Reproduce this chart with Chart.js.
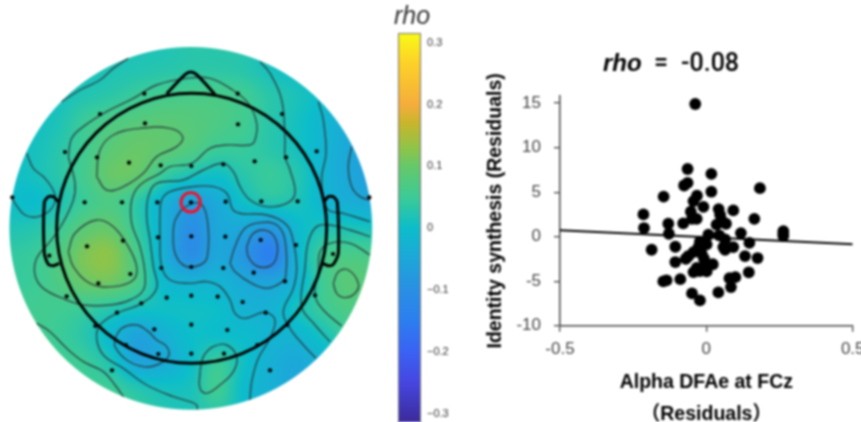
<!DOCTYPE html>
<html><head><meta charset="utf-8">
<script src="https://cdn.jsdelivr.net/npm/chart.js@4/dist/chart.umd.js"></script>
<style>
html,body{margin:0;padding:0;background:#fff;width:861px;height:422px;overflow:hidden}
canvas{position:absolute;filter:blur(0.8px)}
#topo{left:0;top:0}#bar{left:380px;top:0}#sc{left:480px;top:0}
</style></head><body>
<canvas id="topo" width="380" height="422"></canvas>
<canvas id="bar" width="80" height="450"></canvas>
<canvas id="sc" width="420" height="440"></canvas>
<script>
// ---------- scatter values ----------
const dfaResiduals=[-.038,-.064,.017,-.064,-.076,.183,.017,-.146,-.032,-.044,-.01,.042,.092,-.215,-.053,.047,-.049,-.033,.164,.052,-.079,-.13,.067,.035,-.213,.263,.263,.263,-.128,.007,.118,.044,.064,-.022,.147,.001,-.027,.058,.092,.064,-.106,-.187,-.044,-.062,-.016,.132,.175,-.008,-.07,-.106,.022,-.005,-.033,-.044,-.022,.001,.145,.099,.079,-.089,-.136,-.147,.084,-.049,.041,-.022];
const identityResiduals=[14.9,7.6,7.05,6.05,5.75,5.45,5.05,4.5,4.6,4,3.35,3.1,2.95,2.5,2.8,2.45,2,2,2,1.85,1.5,1.45,1.45,1.35,.97,.63,.33,.07,.33,.22,.4,.15,-.3,-.57,-.7,-.87,-1.17,-1.17,-1.17,-1.47,-1.13,-1.47,-1.73,-2.2,-1.9,-2.18,-2.4,-2.48,-2.48,-2.85,-3.1,-3.1,-3.5,-3.98,-3.87,-3.9,-4,-4.55,-4.66,-4.77,-4.9,-5.03,-5.66,-6.37,-6.26,-7.15];
const trendX=[-.5,.5];
const trendY=[.71,-.85];
const xTicks=[-.5,0,.5];
const yTicks=[-10,-5,0,5,10,15];
const colorbarTicks=[-.3,-.2,-.1,0,.1,.2,.3];
// ---------- topography values (rho x 100) on a grid of head-map coordinates ----------
const fieldX=[13,93,173,253,333,413,493,573,653,733,813,893,973,1053,1133];
const fieldY=[125,205,285,365,445,525,605,685,765,845,925,1005,1085,1165,1245];
const fieldValues=[
[2,2,2,2,2,2,2,3,3,3,1,0,-1,-2,-3],
[.5,.5,.5,1.2,1.9,2.3,2.8,3.3,3.3,2.8,1,0,-1,-3,-4],
[.5,.5,1,2.3,3.3,4.8,5.8,6.3,6.3,5.3,3,1.5,-.5,-3,-5],
[.5,.5,1.8,4.8,6.8,8,8.5,8,7,5.5,3,1,-1.7,-4,-6],
[.5,.9,2.8,5.5,8.5,10,9,7.5,5,4.5,3,1,-2,-5,-7],
[.5,1,3,6,10,9.5,4.5,1.7,.5,3,4.5,2.5,-2,-5,-7],
[.7,-.3,1.7,5,7,3.5,-2.5,-6.5,-4,.5,2.5,1.7,-1.7,-3.5,-5],
[2,2.5,4.5,8.5,9.5,4,-3,-10,-5,-5,-8,-1,1.7,1.7,1],
[4,4.5,7,11.5,12.5,6,-3,-10,-5,-8.5,-14,-1.7,5.5,6.5,6],
[4.5,4.8,7,10,10.5,6.5,-1,-2.5,-2.2,-4.5,-5.5,-2,5.5,8.5,7],
[5,5.5,5.5,4.8,3,1.2,.5,.5,0,-2.5,-2.5,1.2,5,7,6],
[5,6,5,3,-1,-5.5,-3,0,0,-.5,-2,-1.7,1.5,5,5],
[5,6,5.5,4.8,1.7,-5,-4,0,4.5,.5,-3,-4.5,-2,0,1],
[5,5,5,5,5,2.5,1,1.5,5.3,-.5,-3,-5,-4,-2,0],
[5,5,5,5,5,4,2.5,2,3,0,-3,-5,-5,-4,-2]];
const colorStops=[[-.32,'#3b2a9a'],[-.25,'#4646e0'],[-.2,'#3a62f4'],[-.15,'#2c7ef0'],[-.1,'#2a8fe4'],[-.03,'#17b0d4'],[0,'#0cbdca'],[.05,'#3ccb96'],[.1,'#66c86a'],[.13,'#90c448'],[.17,'#c9b52c'],[.2,'#f5ad3c'],[.27,'#fdd328'],[.32,'#f9fb15']];
// ---------- head map geometry ----------
const electrodes=[[433,281],[713,281],[300,342],[846,342],[435,370],[714,373],[195,456],[950,454],[291,472],[858,472],[387,488],[764,484],[482,496],[574,498],[670,493],[37,592],[1108,592],[254,607],[366,607],[472,607],[573,607],[677,605],[784,604],[893,604],[474,712],[574,709],[676,710],[782,720],[888,735],[369,722],[261,739],[148,767],[999,762],[484,804],[574,801],[670,804],[761,818],[855,844],[391,822],[295,850],[945,886],[200,889],[500,893],[574,887],[653,890],[728,906],[424,910],[351,938],[797,938],[574,974],[463,988],[682,990],[286,978],[862,975],[378,1035],[772,1035],[475,1062],[574,1061],[672,1061],[336,1111],[810,1111]];
const markedElectrode=[[572,607]];
const headCentre=[[575,685]];
const nose=[[500,281],[555,224],[572,216],[590,224],[645,283]];
const leftEar=[[175,605],[160,590],[145,590],[133,607],[133,760],[145,793],[160,797],[178,790]];
const rightEar=[[972,605],[985,590],[1000,590],[1012,607],[1015,760],[1000,793],[985,797],[968,790]];
const contours=[
[[185,305],[240,270],[300,240],[340,205],[385,175]],
[[80,460],[100,505],[135,535],[165,585],[155,625],[115,650],[75,645],[45,610],[33,590]],
[[205,470],[215,415],[250,380],[320,335],[400,295],[470,255],[560,235],[630,235],[690,265],[745,310],[770,370],[765,420],[750,435],[680,435],[630,445],[575,490],[510,500],[480,520],[420,555],[395,600],[395,670],[420,740],[435,820],[430,870],[390,900],[330,915],[250,915],[200,900],[130,865],[105,825],[110,775],[150,725],[185,675],[220,600],[225,550],[205,470]],
[[290,530],[300,450],[340,405],[420,385],[510,385],[548,410],[530,440],[470,470],[430,520],[370,560],[320,570],[290,530]],
[[205,755],[225,700],[290,660],[340,680],[385,740],[410,800],[400,840],[340,860],[270,850],[220,800],[205,755]],
[[780,185],[810,220],[845,300],[855,420],[855,470],[870,510],[885,580],[860,610],[800,620],[750,600],[720,560],[700,515],[670,490],[610,510],[550,540],[470,550],[445,590],[440,650],[450,720],[460,800],[470,865],[425,910],[350,940],[300,975],[290,1015],[310,1065],[370,1105],[440,1155],[520,1190],[570,1205],[590,1215],[592,1228]],
[[948,1075],[910,1035],[870,985],[850,935],[880,865],[890,805],[880,725],[860,675],[800,645],[705,635],[680,580],[640,560],[580,560],[510,575],[485,600],[480,650],[480,710],[485,800],[510,840],[570,850],[620,845],[660,860],[690,900],[705,940],[735,955],[795,937],[825,960],[810,1015],[775,1075],[755,1145],[750,1200]],
[[525,660],[550,625],[600,610],[622,660],[622,770],[600,795],[555,798],[525,760],[520,690],[525,660]],
[[690,790],[705,740],[735,685],[780,668],[830,675],[855,720],[857,830],[840,850],[800,865],[755,850],[705,815],[690,790]],
[[740,740],[760,700],[800,692],[828,720],[830,770],[810,798],[770,798],[745,770],[740,740]],
[[110,970],[150,995],[200,1045],[250,1085],[310,1115],[345,1155],[370,1190]],
[[345,1015],[365,985],[410,975],[445,995],[470,1020],[500,1040],[505,1070],[470,1095],[430,1100],[380,1080],[345,1040],[345,1015]],
[[600,1115],[610,1070],[640,1040],[680,1035],[710,1070],[700,1115],[660,1155],[620,1180],[600,1165],[600,1115]],
[[955,305],[970,360],[978,460],[965,530],[970,590],[985,630],[1030,640],[1110,665]],
[[1055,440],[1045,500],[1055,560],[1080,590],[1110,600]],
[[1110,710],[1050,690],[990,675],[950,680],[925,725],[915,805],[905,920],[945,975],[990,1025]],
[[1110,765],[1050,730],[990,730],[960,755],[955,815],[945,885],[970,930],[1025,978]],
[[1000,850],[1015,815],[1045,810],[1075,850],[1065,880],[1035,893],[1010,880],[1000,850]]
];
const discCentre=[572.5,685], discRadius=544, headRadius=405;

const XY=a=>a.map(p=>({x:p[0],y:p[1]}));
const stopsRGB=colorStops.map(s=>[s[0],parseInt(s[1].slice(1,3),16),parseInt(s[1].slice(3,5),16),parseInt(s[1].slice(5,7),16)]);
function colour(v){
  if(v<=stopsRGB[0][0])return stopsRGB[0].slice(1);
  for(let i=1;i<stopsRGB.length;i++){
    if(v<=stopsRGB[i][0]){const a=stopsRGB[i-1],b=stopsRGB[i],t=(v-a[0])/(b[0]-a[0]);
      return [a[1]+(b[1]-a[1])*t,a[2]+(b[2]-a[2])*t,a[3]+(b[3]-a[3])*t];}
  }
  return stopsRGB[stopsRGB.length-1].slice(1);
}
function cr(p0,p1,p2,p3,t){return .5*(2*p1+(p2-p0)*t+(2*p0-5*p1+4*p2-p3)*t*t+(3*p1-p0-3*p2+p3)*t*t*t);}
function sample(xv,yv){
  const dx=fieldX[1]-fieldX[0],dy=fieldY[1]-fieldY[0];
  const gx=(xv-fieldX[0])/dx,gy=(yv-fieldY[0])/dy,n=fieldX.length,m=fieldY.length;
  const ix=Math.max(0,Math.min(n-2,Math.floor(gx))),iy=Math.max(0,Math.min(m-2,Math.floor(gy)));
  const tx=gx-ix,ty=gy-iy,cl=(a,b)=>Math.max(0,Math.min(b,a));
  const row=[];
  for(let j=-1;j<=2;j++){const r=fieldValues[cl(iy+j,m-1)];
    row.push(cr(r[cl(ix-1,n-1)],r[ix],r[ix+1],r[cl(ix+2,n-1)],tx));}
  return cr(row[0],row[1],row[2],row[3],ty)/100;
}
const fieldPlugin={id:'field',beforeDatasetsDraw(c){
  const sx=c.scales.x,sy=c.scales.y,ctx=c.ctx;
  const w=c.width,h=c.height,off=document.createElement('canvas');off.width=w;off.height=h;
  const o=off.getContext('2d'),img=o.createImageData(w,h);
  const cx=sx.getPixelForValue(discCentre[0]),cy=sy.getPixelForValue(discCentre[1]),R=sx.getPixelForValue(discCentre[0]+discRadius)-cx;
  for(let py=0;py<h;py++)for(let px=0;px<w;px++){
    const d=Math.hypot(px+.5-cx,py+.5-cy);if(d>R+1)continue;
    const rgb=colour(sample(sx.getValueForPixel(px+.5),sy.getValueForPixel(py+.5)));
    const i=(py*w+px)*4;img.data[i]=rgb[0];img.data[i+1]=rgb[1];img.data[i+2]=rgb[2];
    img.data[i+3]=255*Math.max(0,Math.min(1,R-d+.5));
  }
  o.putImageData(img,0,0);ctx.drawImage(off,0,0);
}};
const lineDs=(pts,color,width,tension)=>({data:XY(pts),showLine:true,borderColor:color,borderWidth:width,tension,pointRadius:0,fill:false});
const headPxRadius=(c,r)=>c.chart.scales.x.getPixelForValue(r)-c.chart.scales.x.getPixelForValue(0);
new Chart(document.getElementById('topo'),{
  type:'scatter',
  data:{datasets:[
    {data:XY(markedElectrode),pointStyle:'circle',pointRadius:c=>headPxRadius(c,29),pointBackgroundColor:'rgba(0,0,0,0)',pointBorderColor:'#ff0a20',pointBorderWidth:2.8},
    {data:XY(electrodes),pointRadius:2.1,pointBackgroundColor:'#000',pointBorderWidth:0},
    {data:XY(headCentre),pointRadius:c=>headPxRadius(c,headRadius),pointBackgroundColor:'rgba(0,0,0,0)',pointBorderColor:'#000',pointBorderWidth:3},
    lineDs(nose,'#000',3,.25),lineDs(leftEar,'#000',3,.25),lineDs(rightEar,'#000',3,.25),
    ...contours.map(p=>lineDs(p,'rgba(40,50,55,.85)',1.4,.4))
  ]},
  plugins:[fieldPlugin],
  options:{responsive:false,animation:false,events:[],layout:{padding:0,autoPadding:false},
    plugins:{legend:{display:false},tooltip:{enabled:false}},
    scales:{x:{display:false,min:0,max:1140},y:{display:false,min:0,max:1266,reverse:true}}}
});
// ---------- colour bar ----------
const barPlugin={id:'cbar',beforeDatasetsDraw(c){
  const a=c.chartArea,s=c.scales.y,ctx=c.ctx,g=ctx.createLinearGradient(0,a.bottom,0,a.top),rng=s.max-s.min;
  colorStops.forEach(st=>g.addColorStop(Math.max(0,Math.min(1,(st[0]-s.min)/rng)),st[1]));
  ctx.fillStyle=g;ctx.fillRect(a.left,a.top,a.right-a.left,a.bottom-a.top);
  ctx.strokeStyle='#777';ctx.lineWidth=1;ctx.strokeRect(a.left+.5,a.top+.5,a.right-a.left-1,a.bottom-a.top+10);
},afterDraw(c){
  const ctx=c.ctx;ctx.save();ctx.font='italic 25px "Liberation Sans"';ctx.fillStyle='#333';ctx.textAlign='left';ctx.textBaseline='alphabetic';
  ctx.fillText('rho',14,24);ctx.restore();
}};
new Chart(document.getElementById('bar'),{
  type:'scatter',data:{datasets:[]},plugins:[barPlugin],
  options:{responsive:false,animation:false,events:[],layout:{padding:{top:33,bottom:28,left:18,right:0},autoPadding:false},
    plugins:{legend:{display:false},tooltip:{enabled:false}},
    scales:{x:{display:false},
      y:{position:'right',min:-.3137,max:.3158,
        afterBuildTicks:s=>{s.ticks=colorbarTicks.map(v=>({value:v}));},
        afterFit:s=>{s.width=39;},
        border:{display:false},
        grid:{drawOnChartArea:false,color:'#555',tickLength:-3,lineWidth:1},
        ticks:{padding:9,color:'#333',autoSkip:false,font:{family:'"Liberation Sans"',size:11},
          callback:v=>v===0?'0':(v<0?'\u2212':'')+Math.abs(v).toFixed(1)}}}}
});
// ---------- scatter ----------
const axisGrey='#444';
const titlePlugin={id:'rhoTitle',afterDraw(c){
  const ctx=c.ctx;ctx.save();ctx.fillStyle='#000';ctx.textBaseline='alphabetic';ctx.textAlign='left';
  ctx.font='italic bold 24px "Liberation Sans"';ctx.fillText('rho',123,71);
  ctx.font='500 25px Roboto';ctx.fillText('=',174,71);ctx.fillText('-0.08',201,71);ctx.restore();
}};
new Chart(document.getElementById('sc'),{
  type:'scatter',
  data:{datasets:[
    {data:dfaResiduals.map((x,i)=>({x,y:identityResiduals[i]})),pointRadius:5.9,pointBackgroundColor:'#000',pointBorderWidth:0},
    {data:trendX.map((x,i)=>({x,y:trendY[i]})),showLine:true,borderColor:'#000',borderWidth:2,pointRadius:0}
  ]},
  plugins:[titlePlugin],
  options:{responsive:false,animation:false,events:[],layout:{padding:{top:96,right:47.3,left:0,bottom:0},autoPadding:false},
    plugins:{legend:{display:false},tooltip:{enabled:false}},
    scales:{
      x:{min:-.5,max:.5,
        afterBuildTicks:s=>{s.ticks=xTicks.map(v=>({value:v}));},
        afterFit:s=>{s.height=114.3;},
        border:{color:axisGrey,width:1.5},
        grid:{drawOnChartArea:false,color:axisGrey,tickLength:6,lineWidth:1.3},
        ticks:{padding:7,color:axisGrey,maxRotation:0,autoSkip:false,font:{family:'"Liberation Sans"',size:17},callback:v=>v===0?'0':String(v)},
        title:{display:true,text:['Alpha DFAe at FCz','\uFF08Residuals\uFF09'],color:'#000',
          font:{family:'"Liberation Sans","Noto Sans CJK JP"',weight:'bold',size:19.5,lineHeight:'32px'},padding:{top:0,bottom:9}}},
      y:{min:-10,max:15.8,
        afterBuildTicks:s=>{s.ticks=yTicks.map(v=>({value:v}));},
        afterFit:s=>{s.width=80;},
        border:{color:axisGrey,width:1.5},
        grid:{drawOnChartArea:false,color:axisGrey,tickLength:6,lineWidth:1.3},
        ticks:{padding:13,color:axisGrey,autoSkip:false,font:{family:'"Liberation Sans"',size:17},callback:v=>String(v)},
        title:{display:true,text:'Identity synthesis (Residuals)',color:'#000',
          font:{family:'"Liberation Sans"',weight:'bold',size:19.5},padding:{top:4,bottom:0}}}
    }}
});
</script>
</body></html>
